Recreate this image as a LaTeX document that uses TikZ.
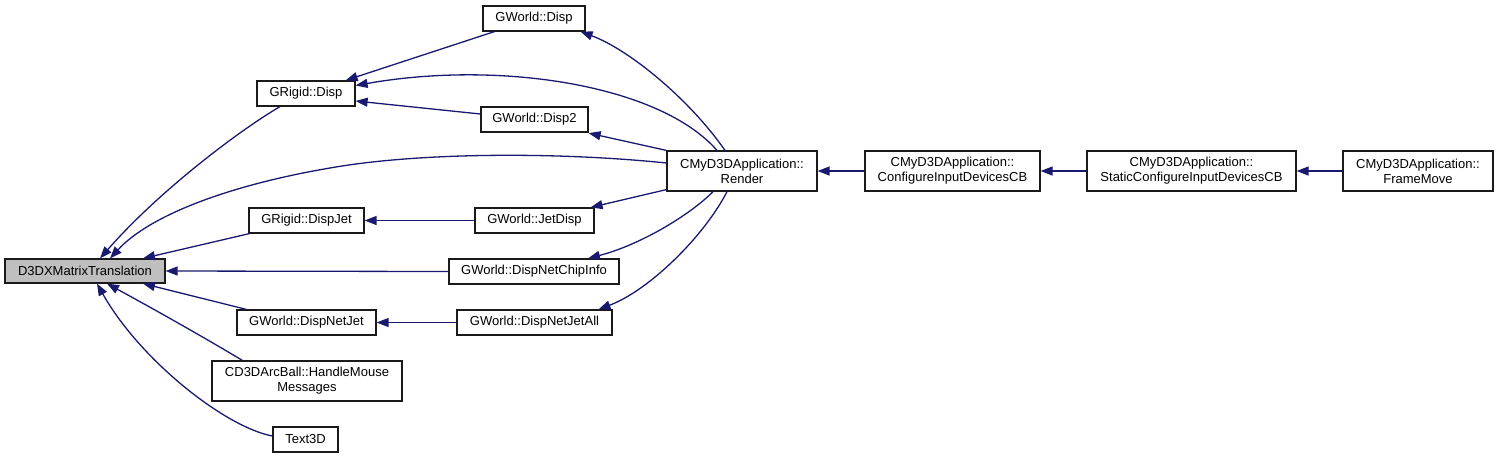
\documentclass[tikz,border=0pt]{standalone}
\usepackage{fontspec}
\setmainfont{Liberation Sans}
\usetikzlibrary{arrows.meta,calc}
\definecolor{edgeblue}{HTML}{191970}
\definecolor{curfill}{HTML}{BFBFBF}
\definecolor{boxline}{HTML}{1A1A1A}
\begin{document}
\begin{tikzpicture}[x=1pt,y=-1pt,
  box/.style={draw=boxline,line width=1.2pt,fill=white,inner sep=0pt,align=center,
    font=\fontsize{13}{15}\selectfont},
  e/.style={draw=edgeblue,line width=1.3pt,-{Triangle[length=12pt,width=9pt]}}]
\useasboundingbox (0,0) rectangle (1499,459);
% nodes
\node[box,fill=curfill,minimum width=160,minimum height=24] (d3dx) at (85,271) {D3DXMatrixTranslation};
\node[box,minimum width=102,minimum height=25] (gwdisp) at (534,18.5) {GWorld::Disp};
\node[box,minimum width=98,minimum height=25] (grdisp) at (306,93.5) {GRigid::Disp};
\node[box,minimum width=107,minimum height=25] (gwdisp2) at (534.5,119.5) {GWorld::Disp2};
\node[box,minimum width=150,minimum height=40] (render) at (742,171) {CMyD3DApplication::\\Render};
\node[box,minimum width=175,minimum height=40] (config) at (952.5,171) {CMyD3DApplication::\\ConfigureInputDevicesCB};
\node[box,minimum width=209,minimum height=40] (static) at (1191.5,171) {CMyD3DApplication::\\StaticConfigureInputDevicesCB};
\node[box,minimum width=150,minimum height=40] (frame) at (1418,171) {CMyD3DApplication::\\FrameMove};
\node[box,minimum width=115,minimum height=25] (grdispjet) at (306.5,220.5) {GRigid::DispJet};
\node[box,minimum width=119,minimum height=25] (jetdisp) at (534.5,220.5) {GWorld::JetDisp};
\node[box,minimum width=170,minimum height=25] (chip) at (534,271.5) {GWorld::DispNetChipInfo};
\node[box,minimum width=139,minimum height=25] (netjet) at (306.5,322.5) {GWorld::DispNetJet};
\node[box,minimum width=155,minimum height=25] (netjetall) at (534.5,322.5) {GWorld::DispNetJetAll};
\node[box,minimum width=190,minimum height=40] (mouse) at (307,381) {CD3DArcBall::HandleMouse\\Messages};
\node[box,minimum width=65,minimum height=25] (text3d) at (305.5,439.5) {Text3D};
% edges
\draw[e] ($(grdisp.south)+(-26,0)$) .. controls (240,130) and (160,190) .. ($(d3dx.north)+(15,0)$);
\draw[e] ($(render.west)+(0,-8)$) .. controls (560,152) and (420,152) .. (330,168)
   .. controls (230,185) and (150,215) .. ($(d3dx.north)+(25,0)$);
\draw[e] ($(grdispjet.south west)+(1,0)$) -- ($(d3dx.north)+(58,0)$);
\draw[e] (chip.west) -- (d3dx.east);
\draw[e] ($(netjet.north west)+(10,0)$) -- ($(d3dx.south)+(58,0)$);
\draw[e] ($(mouse.north west)+(31,0)$) .. controls (200,335) and (150,307) .. ($(d3dx.south)+(22,0)$);
\draw[e] ($(text3d.west)+(0,-3.5)$) .. controls (225,427) and (140,360) .. ($(d3dx.south)+(12,0)$);
\draw[e] ($(gwdisp.south west)+(12,0)$) -- ($(grdisp.north east)+(-10,0)$);
\draw[e] ($(render.north)+(-25,0)$) .. controls (660,85) and (500,60) .. ($(grdisp.east)+(0,-8)$);
\draw[e] ($(gwdisp2.west)+(0,-5.5)$) -- ($(grdisp.east)+(0,7.5)$);
\draw[e] ($(render.north)+(-17,0)$) .. controls (690,100) and (630,50) .. ($(gwdisp.south east)+(-5,0)$);
\draw[e] (render.north west) -- ($(gwdisp2.south east)+(0,0.5)$);
\draw[e] (jetdisp.west) -- (grdispjet.east);
\draw[e] ($(render.south west)+(0,-2)$) -- ($(jetdisp.north east)+(-4,0)$);
\draw[e] ($(render.south)+(-29,0)$) .. controls (690,215) and (640,245) .. ($(chip.north)+(54,0)$);
\draw[e] (netjetall.west) -- (netjet.east);
\draw[e] ($(render.south)+(-15,0)$) .. controls (705,235) and (650,290) .. ($(netjetall.north)+(64,0)$);
\draw[e] (config.west) -- (render.east);
\draw[e] (static.west) -- (config.east);
\draw[e] (frame.west) -- (static.east);
\end{tikzpicture}
\end{document}
